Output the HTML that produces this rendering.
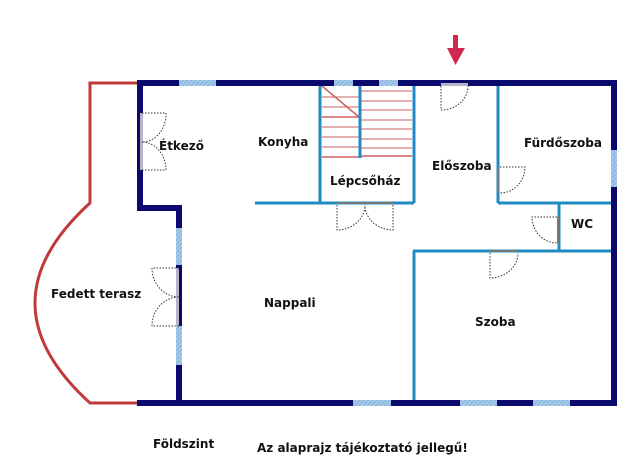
<!DOCTYPE html>
<html><head><meta charset="utf-8"><style>
html,body{margin:0;padding:0;background:#fff}
svg{display:block}
text{font-family:"DejaVu Sans","Liberation Sans",sans-serif;font-weight:bold;font-size:12px;fill:#111}
</style></head><body>
<svg width="640" height="475" viewBox="0 0 640 475">
<defs>
<pattern id="h" width="3" height="3" patternUnits="userSpaceOnUse" patternTransform="rotate(45)">
<rect width="3" height="3" fill="#a9cbe8"/><rect width="1" height="3" fill="#7fb0dc"/></pattern>
</defs>
<path d="M138,83 H90 V203 Q-20,303 90,403 H138" fill="none" stroke="#c0393b" stroke-width="3"/>
<g stroke="#c0393b" stroke-width="1" opacity="0.8">
<line x1="322" y1="97" x2="359" y2="97"/><line x1="322" y1="107" x2="359" y2="107"/>
<line x1="322" y1="117" x2="359" y2="117" stroke-width="1.5"/><line x1="322" y1="127" x2="359" y2="127"/>
<line x1="322" y1="137" x2="359" y2="137"/><line x1="322" y1="147" x2="359" y2="147"/>
<line x1="322" y1="157" x2="359" y2="157" stroke-width="1.5"/>
<line x1="361" y1="91" x2="412" y2="91"/><line x1="361" y1="101" x2="412" y2="101"/>
<line x1="361" y1="110" x2="412" y2="110"/><line x1="361" y1="120" x2="412" y2="120"/>
<line x1="361" y1="129" x2="412" y2="129"/><line x1="361" y1="139" x2="412" y2="139"/>
<line x1="361" y1="148" x2="412" y2="148"/><line x1="361" y1="156" x2="412" y2="156" stroke-width="1.5"/>
<line x1="322" y1="86" x2="359" y2="117" stroke-width="1.5"/>
</g>
<g stroke="#1e8bc3" stroke-width="3" fill="none">
<line x1="255" y1="203" x2="414" y2="203"/>
<line x1="320" y1="83" x2="320" y2="203"/>
<line x1="414" y1="83" x2="414" y2="203"/>
<line x1="360" y1="86" x2="360" y2="158"/>
<line x1="498" y1="83" x2="498" y2="203"/>
<line x1="498" y1="203" x2="614" y2="203"/>
<line x1="559" y1="203" x2="559" y2="251"/>
<line x1="413" y1="251" x2="614" y2="251"/>
<line x1="414" y1="251" x2="414" y2="403"/>
</g>
<g stroke="#0a0a6e" stroke-width="6" fill="none" stroke-linecap="square">
<line x1="140" y1="83" x2="614" y2="83"/>
<line x1="140" y1="83" x2="140" y2="208"/>
<line x1="140" y1="208" x2="179" y2="208"/>
<line x1="179" y1="208" x2="179" y2="403"/>
<line x1="140" y1="403" x2="614" y2="403"/>
<line x1="614" y1="83" x2="614" y2="403"/>
</g>
<g fill="url(#h)">
<rect x="179" y="80" width="37" height="6"/>
<rect x="334" y="80" width="19" height="6"/>
<rect x="379" y="80" width="19" height="6"/>
<rect x="176" y="228" width="6" height="37"/>
<rect x="176" y="326" width="6" height="39"/>
<rect x="353" y="400" width="38" height="6"/>
<rect x="460" y="400" width="37" height="6"/>
<rect x="533" y="400" width="37" height="6"/>
<rect x="611" y="150" width="6" height="37"/>
</g>
<g fill="#b7b4c8"><rect x="140" y="113" width="3" height="57"/><rect x="176" y="268" width="3" height="58"/><rect x="441" y="83" width="27" height="3"/></g>
<g stroke="#777" stroke-width="2"><line x1="337" y1="203" x2="393" y2="203"/><line x1="498" y1="167" x2="498" y2="193"/><line x1="558" y1="217" x2="558" y2="243"/><line x1="490" y1="251" x2="518" y2="251"/></g>
<g stroke="#333" stroke-width="1" stroke-dasharray="1.5,1.5" fill="none">
<path d="M142,113 H166 A24,28 0 0 1 142,142 M142,170 H166 A24,28 0 0 0 142,142"/>
<path d="M179,268 H152 A27,29 0 0 0 179,297 M179,326 H152 A27,29 0 0 1 179,297"/>
<path d="M441,86 V110 A27,24 0 0 0 468,86"/>
<path d="M337,205 V230 A28,25 0 0 0 365,205 M393,205 V230 A28,25 0 0 1 365,205"/>
<path d="M500,167 H525 A25,26 0 0 1 500,193"/>
<path d="M557,217 H532 A25,26 0 0 0 557,243"/>
<path d="M490,253 V278 A28,25 0 0 0 518,253"/>
</g>
<path d="M453,35 H458 V48 H465 L455.5,65 L447,48 H453 Z" fill="#d0294f"/>
<text x="159" y="150">Étkező</text>
<text x="258" y="146">Konyha</text>
<text x="330" y="185">Lépcsőház</text>
<text x="432" y="170">Előszoba</text>
<text x="524" y="147">Fürdőszoba</text>
<text x="571" y="228">WC</text>
<text x="51" y="298">Fedett terasz</text>
<text x="264" y="307">Nappali</text>
<text x="475" y="326">Szoba</text>
<text x="153" y="448">Földszint</text>
<text x="257" y="452">Az alaprajz tájékoztató jellegű!</text>
</svg>
</body></html>
